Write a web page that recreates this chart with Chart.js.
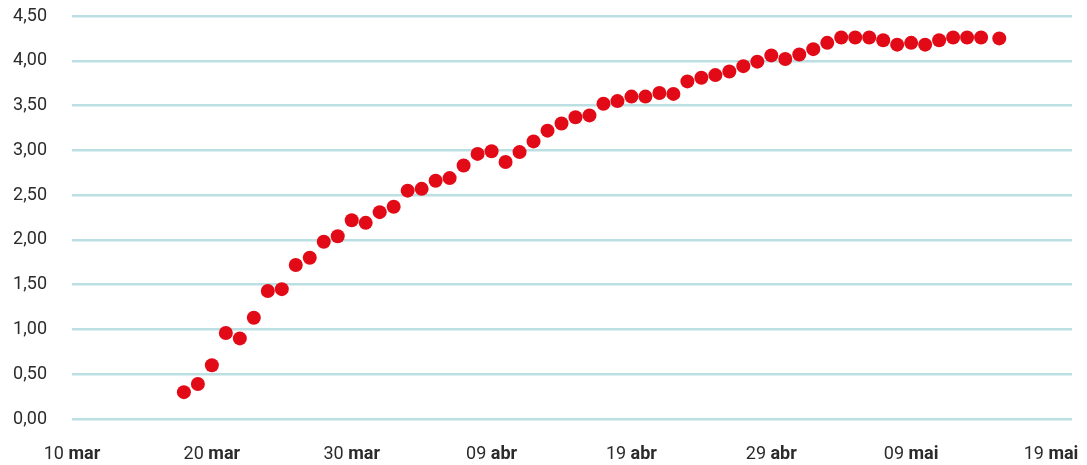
<!DOCTYPE html>
<html>
<head>
<meta charset="utf-8">
<script src="https://cdn.jsdelivr.net/npm/chart.js@4/dist/chart.umd.min.js"></script>
<style>
    html, body { margin: 0; padding: 0; background: #fff; }
    #wrap { width: 1087px; height: 465px; }
</style>
</head>
<body>
<div id="wrap"><canvas id="chart"></canvas></div>
<script>
// days after 10 mar
const days = [
    8, 9, 10, 11, 12, 13, 14, 15, 16, 17,
    18, 19, 20, 21, 22, 23, 24, 25, 26, 27,
    28, 29, 30, 31, 32, 33, 34, 35, 36, 37,
    38, 39, 40, 41, 42, 43, 44, 45, 46, 47,
    48, 49, 50, 51, 52, 53, 54, 55, 56, 57,
    58, 59, 60, 61, 62, 63, 64, 65, 66.3
];
const values = [
    0.30, 0.39, 0.60, 0.96, 0.90, 1.13, 1.43, 1.45, 1.72, 1.80,
    1.98, 2.04, 2.22, 2.19, 2.31, 2.37, 2.55, 2.57, 2.66, 2.69,
    2.83, 2.96, 2.99, 2.87, 2.98, 3.10, 3.22, 3.30, 3.37, 3.39,
    3.52, 3.55, 3.60, 3.60, 3.64, 3.63, 3.77, 3.81, 3.84, 3.88,
    3.94, 3.99, 4.06, 4.02, 4.07, 4.13, 4.20, 4.26, 4.26, 4.26,
    4.23, 4.18, 4.20, 4.18, 4.23, 4.26, 4.26, 4.26, 4.25
];
const xTickLabels = ['10 mar', '20 mar', '30 mar', '09 abr', '19 abr', '29 abr', '09 mai', '19 mai'];
const yTicks = [0, 0.5, 1, 1.5, 2, 2.5, 3, 3.5, 4, 4.5];

const fontFamily = 'Roboto, "Liberation Sans", sans-serif';
const red = '#e30a18';
const gridColor = '#bcdfe3';
const textColor = '#2b2b2b';

// draws "10 mar" with the month in bold
const xLabelPlugin = {
    id: 'xLabels',
    afterDraw(chart) {
        const sx = chart.scales.x;
        const ctx = chart.ctx;
        ctx.save();
        ctx.fillStyle = textColor;
        ctx.textBaseline = 'alphabetic';
        ctx.textAlign = 'left';
        sx.ticks.forEach(t => {
            const lbl = xTickLabels[Math.round(t.value / 10)];
            if (!lbl) return;
            const [num, mon] = lbl.split(' ');
            ctx.font = '18px ' + fontFamily;
            const w1 = ctx.measureText(num + ' ').width;
            ctx.font = 'bold 18px ' + fontFamily;
            const w2 = ctx.measureText(mon).width;
            const x0 = sx.getPixelForValue(t.value) - (w1 + w2) / 2;
            const y = chart.chartArea.bottom + 40;
            ctx.font = '18px ' + fontFamily;
            ctx.fillText(num + ' ', x0, y);
            ctx.font = 'bold 18px ' + fontFamily;
            ctx.fillText(mon, x0 + w1, y);
        });
        ctx.restore();
    }
};

new Chart(document.getElementById('chart'), {
    type: 'scatter',
    data: {
        datasets: [{
            data: days.map((d, i) => ({ x: d, y: values[i] })),
            backgroundColor: red,
            borderColor: red,
            borderWidth: 0,
            pointRadius: 7,
            pointHoverRadius: 7
        }]
    },
    options: {
        responsive: true,
        maintainAspectRatio: false,
        animation: false,
        layout: { padding: { top: 16, right: 15, bottom: 0, left: 0 } },
        plugins: {
            legend: { display: false },
            tooltip: { enabled: false }
        },
        scales: {
            x: {
                type: 'linear',
                min: 0,
                max: 71.5,
                afterBuildTicks: s => { s.ticks = xTickLabels.map((l, i) => ({ value: i * 10 })); },
                afterFit: s => { s.height = 46; s.paddingLeft = 0; s.paddingRight = 0; },
                border: { display: false },
                grid: { display: false },
                ticks: { color: 'rgba(0,0,0,0)', font: { family: fontFamily, size: 18 }, maxRotation: 0 }
            },
            y: {
                min: 0,
                max: 4.5,
                afterBuildTicks: s => { s.ticks = yTicks.map(v => ({ value: v })); },
                afterFit: s => { s.width = 72; s.paddingTop = 0; s.paddingBottom = 0; },
                border: { display: false },
                grid: { color: gridColor, lineWidth: 2.5, drawTicks: false },
                ticks: {
                    color: textColor,
                    padding: 25,
                    font: { family: fontFamily, size: 18 },
                    callback: v => v.toFixed(2).replace('.', ',')
                }
            }
        }
    },
    plugins: [xLabelPlugin]
});
</script>
</body>
</html>
